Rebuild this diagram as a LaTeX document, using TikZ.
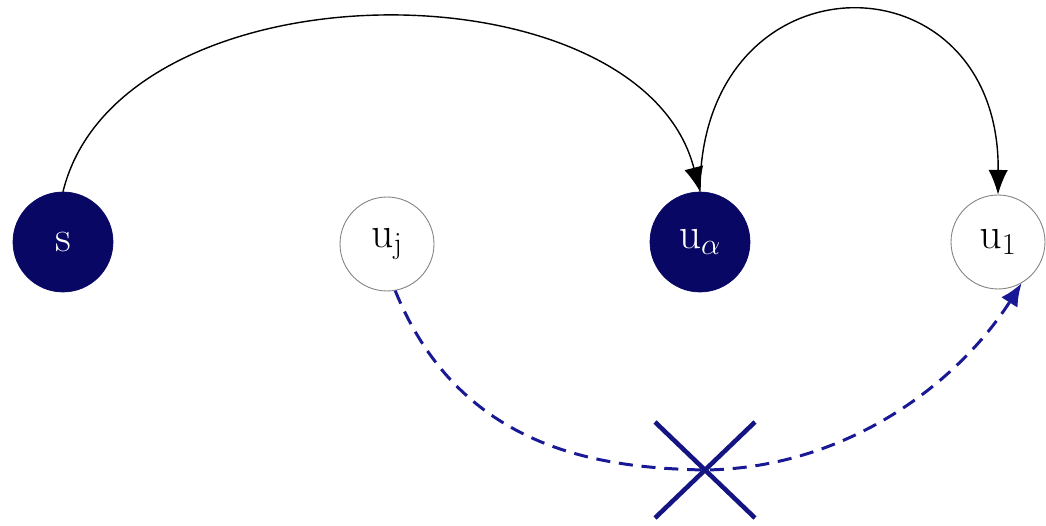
\documentclass[tikz,border=0pt]{standalone}
\usetikzlibrary{arrows.meta}
\definecolor{navy}{RGB}{8,8,100}
\definecolor{dashblue}{RGB}{25,25,150}
\definecolor{crossblue}{RGB}{20,20,130}
\definecolor{ringgray}{RGB}{130,130,130}
\begin{document}
\begin{tikzpicture}[x=0.02cm,y=-0.02cm,
  dark/.style={circle,fill=navy,draw=navy,minimum size=2.0cm,inner sep=0pt,text=white,font=\fontsize{27}{30}\selectfont},
  light/.style={circle,fill=white,draw=ringgray,line width=0.5pt,minimum size=1.88cm,inner sep=0pt,font=\fontsize{27}{30}\selectfont},
  blackarrow/.style={line width=0.8pt,-{Latex[length=14pt,width=11pt]}},
  blockedarrow/.style={dashblue,line width=1.7pt,dash pattern=on 8pt off 5pt,-{Latex[length=13pt,width=11pt]}},
  cross/.style={crossblue,line width=2.6pt}]
\useasboundingbox (0,0) rectangle (1046,526);
\node[dark] (s) at (63,242) {$\mathrm{s}$};
\node[light] (uj) at (387,244) {$\mathrm{u}_{\mathrm{j}}$};
\node[dark] (ua) at (700,242) {$\mathrm{u}_\alpha$};
\node[light] (u1) at (998,242) {$\mathrm{u}_{\mathrm{1}}$};
\coordinate (xc) at (705,470);
\draw[blackarrow] (s.north) .. controls (120,-40) and (640,-40) .. (ua.north);
\draw[blackarrow] (ua.north) .. controls (700,-50) and (1000,-50) .. (u1.north);
\draw[blockedarrow] (uj.-80) .. controls (460,450) and (600,468) .. (xc) .. controls (850,468) and (960,380) .. (u1.-60);
\draw[cross] (655,422) -- (755,518);
\draw[cross] (755,422) -- (655,518);
\end{tikzpicture}
\end{document}
